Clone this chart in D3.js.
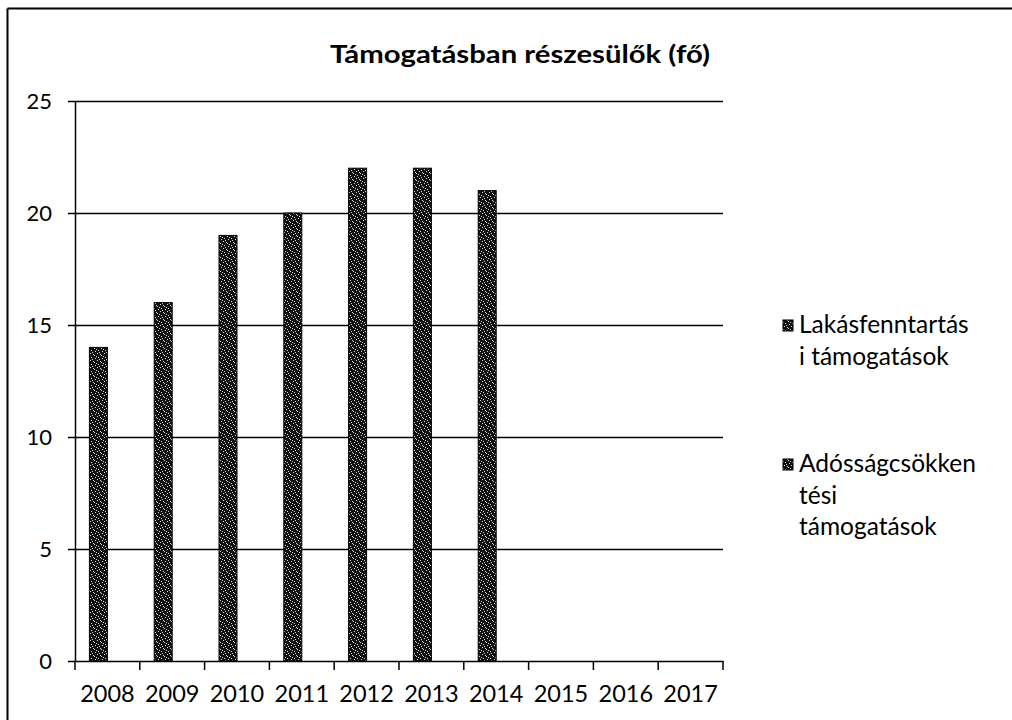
<!DOCTYPE html>
<html>
<head>
<meta charset="utf-8">
<script src="https://cdn.jsdelivr.net/npm/d3@7"></script>
<style>
  body { margin: 0; background: #fff; }
  text { font-family: Lato, "Open Sans", sans-serif; fill: #000; }
</style>
</head>
<body>
<div id="chart"></div>
<script>
//chart data
var years = ["2008","2009","2010","2011","2012","2013","2014","2015","2016","2017"];
var lakasfenntartasi = [14,16,19,20,22,22,21,0,0,0];
var adossagcsokkentesi = [0,0,0,0,0,0,0,0,0,0];
var seriesNames = [["Lakásfenntartás","i támogatások"],["Adósságcsökken","tési","támogatások"]];
var yTicks = [0,5,10,15,20,25];

//size of graph
var W = 1012, H = 720;
var margin = {top: 101, left: 75, right: 1012 - 723, bottom: 720 - 661};
var width = W - margin.left - margin.right,
    height = H - margin.top - margin.bottom;

var svg = d3.select("#chart").append("svg")
    .attr("width", W).attr("height", H);

//speckled fill like the scanned bars
var defs = svg.append("defs");
var pat = defs.append("pattern").attr("id","speck")
    .attr("width", 7).attr("height", 7).attr("patternUnits","userSpaceOnUse");
pat.append("rect").attr("width",7).attr("height",7).attr("fill","#111");
[[1,0],[5,2],[2,4],[6,5],[3,6],[0,3],[4,1]].forEach(function(p){
  pat.append("rect").attr("x",p[0]).attr("y",p[1]).attr("width",1).attr("height",1).attr("fill","#d8d8d8");
});

//outer frame (left and top only visible)
svg.append("line").attr("x1",7.5).attr("x2",W).attr("y1",8.5).attr("y2",8.5)
   .attr("stroke","#000").attr("stroke-width",2);
svg.append("line").attr("x1",7.5).attr("x2",7.5).attr("y1",8.5).attr("y2",H)
   .attr("stroke","#000").attr("stroke-width",2);

var g = svg.append("g").attr("transform","translate(" + margin.left + "," + margin.top + ")");

var x = d3.scaleBand().domain(years).range([0, width]).paddingInner(0).paddingOuter(0);
var y = d3.scaleLinear().domain([0,25]).range([height, 0]);

//inner band for the two series
var inner = d3.scaleBand().domain([0,1]).range([0, x.bandwidth()]).paddingOuter(0.8).paddingInner(0);

//gridlines
g.append("g").selectAll("line").data(yTicks.filter(function(d){return d>0;})).join("line")
  .attr("x1", 0).attr("x2", width)
  .attr("y1", function(d){return Math.round(y(d))+0.5;}).attr("y2", function(d){return Math.round(y(d))+0.5;})
  .attr("stroke","#000").attr("stroke-width",1.5);

//bars
var seriesData = [lakasfenntartasi, adossagcsokkentesi];
seriesData.forEach(function(vals, si){
  g.append("g").selectAll("rect").data(vals).join("rect")
    .attr("x", function(d,i){return x(years[i]) + inner(si);})
    .attr("y", function(d){return y(d);})
    .attr("width", inner.bandwidth())
    .attr("height", function(d){return height - y(d);})
    .attr("fill","url(#speck)")
    .attr("stroke","#000").attr("stroke-width",1);
});

//y-axis
var yAxis = g.append("g")
  .call(d3.axisLeft(y).tickValues(yTicks).tickSize(7).tickPadding(16).tickSizeOuter(0));
yAxis.selectAll("text").style("font-size","22px");
yAxis.selectAll("line, path").attr("stroke","#000").attr("stroke-width",1.5);

//x-axis
var xAxis = g.append("g").attr("transform","translate(0," + height + ")")
  .call(d3.axisBottom(x).tickSize(0).tickPadding(24));
xAxis.select("path").attr("stroke","#000").attr("stroke-width",1.5);
xAxis.selectAll("text").style("font-size","23.5px");
//ticks at band boundaries
xAxis.append("g").selectAll("line").data(d3.range(years.length+1)).join("line")
  .attr("x1", function(i){return i*x.step();}).attr("x2", function(i){return i*x.step();})
  .attr("y1",0).attr("y2",9).attr("stroke","#000").attr("stroke-width",1.5);

//title
svg.append("text").attr("x", 520).attr("y", 63).attr("text-anchor","middle")
  .style("font-size","25px").style("font-weight","bold")
  .attr("textLength", 380).attr("lengthAdjust","spacingAndGlyphs")
  .text("Támogatásban  részesülők (fő)");

//legend
var legendY = [333, 472];
seriesNames.forEach(function(lines, i){
  var lg = svg.append("g").attr("transform","translate(783," + legendY[i] + ")");
  lg.append("rect").attr("x",0).attr("y",-13).attr("width",10).attr("height",11)
    .attr("fill","url(#speck)").attr("stroke","#000");
  lg.selectAll("text").data(lines).join("text")
    .attr("x", 16).attr("y", function(d,j){return j*31.5;})
    .style("font-size","24.5px")
    .text(function(d){return d;});
});
</script>
</body>
</html>
